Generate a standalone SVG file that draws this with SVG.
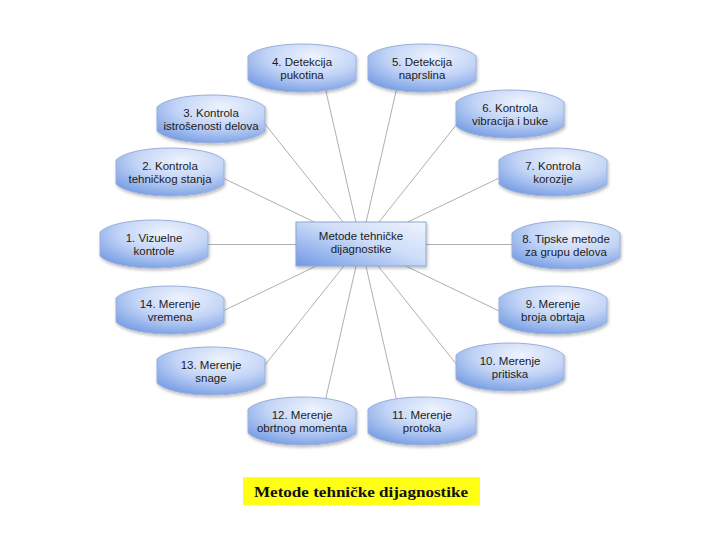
<svg xmlns="http://www.w3.org/2000/svg" xmlns:xlink="http://www.w3.org/1999/xlink" width="720" height="540" viewBox="0 0 720 540">
<style>
.node{fill:url(#ng);stroke:#9bb0d8;stroke-width:1;filter:url(#sh)}
.t{font-family:"Liberation Sans",Arial,sans-serif;font-size:11.5px;fill:#1c1c1c;text-anchor:middle}
.c line{stroke:#9a9a9a;stroke-width:0.8}
.cap{font-family:"Liberation Serif","DejaVu Serif",serif;font-weight:bold;font-size:15px;fill:#111;text-anchor:middle}
</style>
<defs>
<radialGradient id="ng" cx="0.6" cy="0.25" r="0.85">
<stop offset="0" stop-color="#eef3fd"/>
<stop offset="0.5" stop-color="#c2d4f6"/>
<stop offset="1" stop-color="#6e97e2"/>
</radialGradient>
<linearGradient id="cg" x1="0" y1="1" x2="1" y2="0">
<stop offset="0" stop-color="#6f99e4"/>
<stop offset="0.55" stop-color="#cddcf8"/>
<stop offset="1" stop-color="#eef3fd"/>
</linearGradient>
<filter id="sh" x="-20%" y="-20%" width="140%" height="150%">
<feDropShadow dx="1" dy="2" stdDeviation="1.5" flood-color="#000" flood-opacity="0.25"/>
</filter>
<path id="shape" d="M-54,-12 C-38,-28 38,-28 54,-12 L54,12 C38,28 -38,28 -54,12 Z"/>
</defs>
<rect width="720" height="540" fill="#fff"/>
<g id="connectors" class="c">
<line x1="361" y1="244.5" x2="196" y2="244.5"/>
<line x1="361" y1="244.5" x2="212.3" y2="172.9"/>
<line x1="361" y1="244.5" x2="255" y2="111.5"/>
<line x1="361" y1="244.5" x2="322" y2="73.9"/>
<line x1="361" y1="244.5" x2="400" y2="73.9"/>
<line x1="361" y1="244.5" x2="463.8" y2="115.5"/>
<line x1="361" y1="244.5" x2="509.7" y2="172.9"/>
<line x1="361" y1="244.5" x2="526" y2="244.5"/>
<line x1="361" y1="244.5" x2="509.7" y2="316.1"/>
<line x1="361" y1="244.5" x2="463.8" y2="373.5"/>
<line x1="361" y1="244.5" x2="400" y2="415"/>
<line x1="361" y1="244.5" x2="322" y2="415"/>
<line x1="361" y1="244.5" x2="255" y2="377.5"/>
<line x1="361" y1="244.5" x2="212.3" y2="316.1"/>
</g>
<g id="center">
<rect x="296" y="222" width="130" height="44" fill="url(#cg)" stroke="#8fa6cf" stroke-width="1" filter="url(#sh)"/>
<text class="t" x="361" y="240">Metode tehničke</text>
<text class="t" x="361" y="253">dijagnostike</text>
</g>
<g id="n1" transform="translate(154,244)"><use href="#shape" class="node"/><text class="t" y="-2">1. Vizuelne</text><text class="t" y="11">kontrole</text></g>
<g id="n2" transform="translate(170,172)"><use href="#shape" class="node"/><text class="t" y="-2">2. Kontrola</text><text class="t" y="11">tehničkog stanja</text></g>
<g id="n3" transform="translate(211,119)"><use href="#shape" class="node"/><text class="t" y="-2">3. Kontrola</text><text class="t" y="11">istrošenosti delova</text></g>
<g id="n4" transform="translate(302,68)"><use href="#shape" class="node"/><text class="t" y="-2">4. Detekcija</text><text class="t" y="11">pukotina</text></g>
<g id="n5" transform="translate(422,68)"><use href="#shape" class="node"/><text class="t" y="-2">5. Detekcija</text><text class="t" y="11">naprslina</text></g>
<g id="n6" transform="translate(510,114)"><use href="#shape" class="node"/><text class="t" y="-2">6. Kontrola</text><text class="t" y="11">vibracija i buke</text></g>
<g id="n7" transform="translate(553,172)"><use href="#shape" class="node"/><text class="t" y="-2">7. Kontrola</text><text class="t" y="11">korozije</text></g>
<g id="n8" transform="translate(566,245)"><use href="#shape" class="node"/><text class="t" y="-2">8. Tipske metode</text><text class="t" y="11">za grupu delova</text></g>
<g id="n9" transform="translate(553,310)"><use href="#shape" class="node"/><text class="t" y="-2">9. Merenje</text><text class="t" y="11">broja obrtaja</text></g>
<g id="n10" transform="translate(510,367)"><use href="#shape" class="node"/><text class="t" y="-2">10. Merenje</text><text class="t" y="11">pritiska</text></g>
<g id="n11" transform="translate(422,421)"><use href="#shape" class="node"/><text class="t" y="-2">11. Merenje</text><text class="t" y="11">protoka</text></g>
<g id="n12" transform="translate(302,421)"><use href="#shape" class="node"/><text class="t" y="-2">12. Merenje</text><text class="t" y="11">obrtnog momenta</text></g>
<g id="n13" transform="translate(211,371)"><use href="#shape" class="node"/><text class="t" y="-2">13. Merenje</text><text class="t" y="11">snage</text></g>
<g id="n14" transform="translate(170,310)"><use href="#shape" class="node"/><text class="t" y="-2">14. Merenje</text><text class="t" y="11">vremena</text></g>
<g id="caption">
<rect x="243" y="477" width="237" height="28" fill="#ffff14"/>
<text class="cap" x="361" y="497" textLength="214" lengthAdjust="spacingAndGlyphs">Metode tehničke dijagnostike</text>
</g>
</svg>
